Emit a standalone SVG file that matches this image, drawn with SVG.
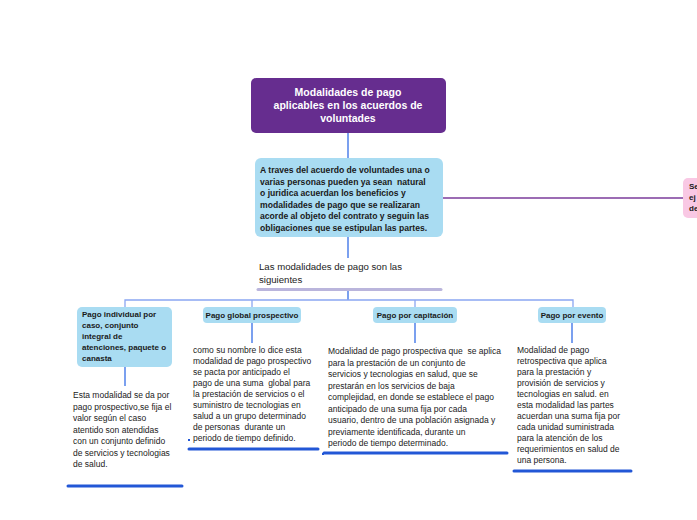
<svg xmlns="http://www.w3.org/2000/svg" width="697" height="520" viewBox="0 0 697 520">
<style>
.t{font-family:"Liberation Sans",Arial,sans-serif;font-size:8.5px;fill:#222;white-space:pre}
.b{font-family:"Liberation Sans",Arial,sans-serif;font-size:8.6px;font-weight:bold;fill:#1a1a1a;white-space:pre}
.h{font-family:"Liberation Sans",Arial,sans-serif;font-size:10.5px;font-weight:bold;fill:#fff}
.lbl{font-family:"Liberation Sans",Arial,sans-serif;font-size:8px;font-weight:bold;fill:#1a1a1a}
.box{fill:#a9dcf2}
.ul{stroke:#2257d6;stroke-width:3;stroke-linecap:round;fill:none}
.c{stroke:#8aa6f2;stroke-width:1.3;fill:none}
.cs{stroke:#4f80ea;stroke-width:1.5;fill:none}
</style>
<rect width="697" height="520" fill="#fff"/>
<g id="connectors">
<line class="cs" x1="348" y1="133" x2="348" y2="158"/>
<line class="cs" x1="348" y1="237" x2="348" y2="258"/>
<line x1="443" y1="198" x2="683" y2="198" stroke="#7b3b9b" stroke-width="1.3"/>
<line class="cs" x1="348" y1="290" x2="348" y2="300"/>
<polyline class="c" points="125,307 125,300 573,300 573,307"/>
<line class="c" x1="252" y1="300" x2="252" y2="307"/>
<line class="c" x1="415" y1="300" x2="415" y2="307"/>
<line class="cs" x1="125" y1="367" x2="125" y2="386"/>
<line class="cs" x1="252" y1="323" x2="252" y2="343"/>
<line class="cs" x1="415" y1="323" x2="415" y2="343"/>
<line class="cs" x1="572" y1="323" x2="572" y2="343"/>
<rect x="188" y="439" width="2" height="2" fill="#2257d6"/>
<rect x="322" y="453" width="2" height="2" fill="#2257d6"/>
</g>
<g id="title">
<rect x="251" y="78" width="195" height="55" rx="5" fill="#662d8f"/>
<text class="h" text-anchor="middle"><tspan x="348" y="96">Modalidades de pago</tspan><tspan x="348" y="109">aplicables en los acuerdos de</tspan><tspan x="348" y="122">voluntades</tspan></text>
</g>
<g id="acuerdo">
<rect class="box" x="255" y="158" width="188" height="79" rx="6"/>
<text class="b"><tspan x="260" y="173">A traves del acuerdo de voluntades una o</tspan><tspan x="260" y="184.5">varias personas pueden ya sean  natural</tspan><tspan x="260" y="196">o juridica acuerdan los beneficios y</tspan><tspan x="260" y="207.5">modalidades de pago que se realizaran</tspan><tspan x="260" y="219">acorde al objeto del contrato y seguin las</tspan><tspan x="260" y="230.5">obligaciones que se estipulan las partes.</tspan></text>
</g>
<g id="pink">
<rect x="683" y="178" width="30" height="40" rx="5" fill="#f9c8e4"/>
<text class="lbl"><tspan x="689" y="189">Se</tspan><tspan x="689" y="200">ej</tspan><tspan x="689" y="211">de</tspan></text>
</g>
<g id="siguientes">
<text class="t" style="font-size:9.6px"><tspan x="259" y="270">Las modalidades de pago son las</tspan><tspan x="259" y="283">siguientes</tspan></text>
<line x1="258" y1="289.5" x2="441" y2="289.5" stroke="#bab5dc" stroke-width="3" stroke-linecap="round"/>
</g>
<g id="individual">
<rect class="box" x="77" y="307" width="95" height="60" rx="5"/>
<text class="lbl"><tspan x="82" y="317">Pago individual por</tspan><tspan x="82" y="328">caso, conjunto</tspan><tspan x="82" y="339">integral de</tspan><tspan x="82" y="350">atenciones, paquete o</tspan><tspan x="82" y="361">canasta</tspan></text>
<text class="t"><tspan x="73" y="398">Esta modalidad se da por</tspan><tspan x="73" y="409.5">pago prospectivo,se fija el</tspan><tspan x="73" y="421">valor según el caso</tspan><tspan x="73" y="432.5">atentido son atendidas</tspan><tspan x="73" y="444">con un conjunto definido</tspan><tspan x="73" y="455.5">de servicios y tecnologias</tspan><tspan x="73" y="467">de salud.</tspan></text>
<line class="ul" x1="68" y1="486" x2="182" y2="486"/>
</g>
<g id="global">
<rect class="box" x="203" y="307" width="98" height="16" rx="4"/>
<text class="lbl" x="252" y="318" text-anchor="middle">Pago global prospectivo</text>
<text class="t"><tspan x="193" y="353">como su nombre lo dice esta</tspan><tspan x="193" y="364">modalidad de pago prospectivo</tspan><tspan x="193" y="375">se pacta por anticipado el</tspan><tspan x="193" y="386">pago de una suma  global para</tspan><tspan x="193" y="397">la prestación de servicios o el</tspan><tspan x="193" y="408">suministro de tecnologias en</tspan><tspan x="193" y="419">salud a un grupo determinado</tspan><tspan x="193" y="430">de personas  durante un</tspan><tspan x="193" y="441">periodo de tiempo definido.</tspan></text>
<line class="ul" x1="189" y1="449" x2="318" y2="449"/>
</g>
<g id="capitacion">
<rect class="box" x="373" y="307" width="84" height="16" rx="4"/>
<text class="lbl" x="415" y="318" text-anchor="middle">Pago por capitación</text>
<text class="t"><tspan x="328" y="354">Modalidad de pago prospectiva que  se aplica</tspan><tspan x="328" y="365.5">para la prestación de un conjunto de</tspan><tspan x="328" y="377">servicios y tecnologias en salud, que se</tspan><tspan x="328" y="388.5">prestarán en los servicios de baja</tspan><tspan x="328" y="400">complejidad, en donde se establece el pago</tspan><tspan x="328" y="411.5">anticipado de una suma fija por cada</tspan><tspan x="328" y="423">usuario, dentro de una población asignada y</tspan><tspan x="328" y="434.5">previamente identificada, durante un</tspan><tspan x="328" y="446">periodo de tiempo determinado.</tspan></text>
<line class="ul" x1="324" y1="453" x2="507" y2="453"/>
</g>
<g id="evento">
<rect class="box" x="538" y="307" width="68" height="16" rx="4"/>
<text class="lbl" x="572" y="318" text-anchor="middle">Pago por evento</text>
<text class="t"><tspan x="517" y="353">Modalidad de pago</tspan><tspan x="517" y="364">retrospectiva que aplica</tspan><tspan x="517" y="375">para la prestación y</tspan><tspan x="517" y="386">provisión de servicios y</tspan><tspan x="517" y="397">tecnologias en salud. en</tspan><tspan x="517" y="408">esta modalidad las partes</tspan><tspan x="517" y="419">acuerdan una suma fija por</tspan><tspan x="517" y="430">cada unidad suministrada</tspan><tspan x="517" y="441">para la atención de los</tspan><tspan x="517" y="452">requerimientos en salud de</tspan><tspan x="517" y="463">una persona.</tspan></text>
<line class="ul" x1="514" y1="471" x2="631" y2="471"/>
</g>
</svg>
